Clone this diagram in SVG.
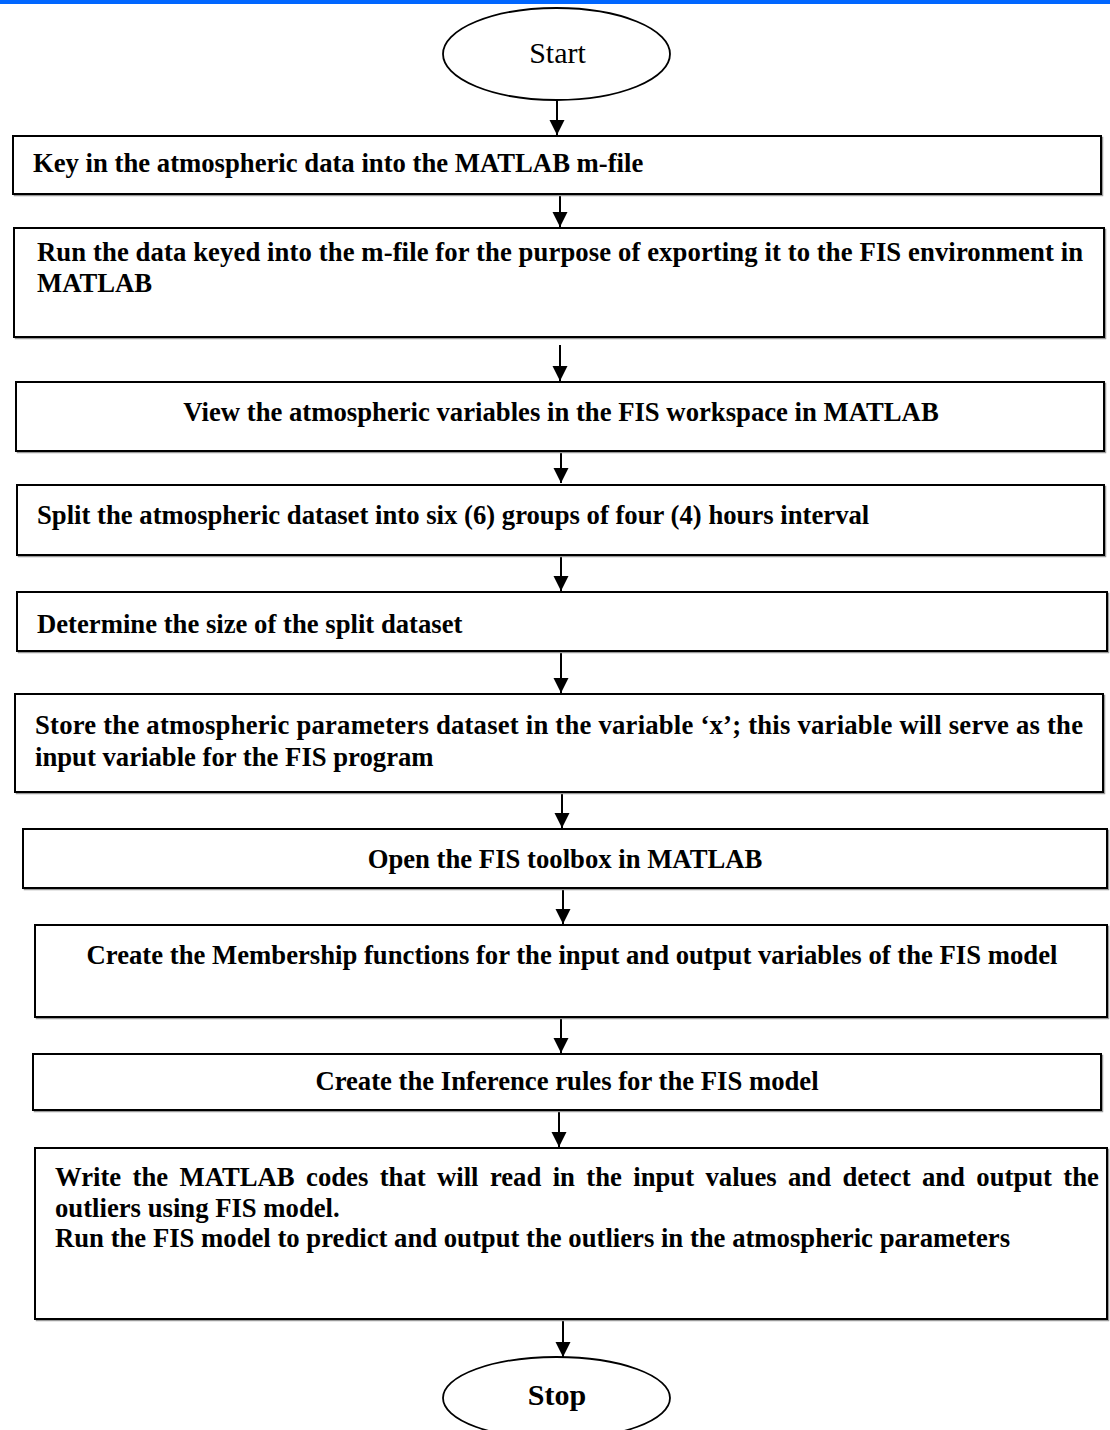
<svg xmlns="http://www.w3.org/2000/svg" width="1110" height="1430" viewBox="0 0 1110 1430">
<style>
.box{fill:#ffffff;stroke:#000000;stroke-width:2}
.sh{fill:none;stroke:#9a9a9a;stroke-width:1.5}
.t{font-family:"Liberation Serif","Times New Roman",serif;font-weight:bold;font-size:26.7px;fill:#000000}
.c{text-anchor:middle}
.term{fill:#ffffff;stroke:#000000;stroke-width:1.8}
.conn{stroke:#000000;stroke-width:2;fill:none;marker-end:url(#ah)}
</style>
<defs>
<marker id="ah" markerUnits="userSpaceOnUse" markerWidth="16" markerHeight="16" viewBox="0 0 16 16" refX="15" refY="8" orient="auto">
<path d="M0,0.5 L15,8 L0,15.5 Z" fill="#000000"/>
</marker>
</defs>
<rect x="0" y="0" width="1110" height="4" fill="#0066ff"/>

<g id="connectors">
<line class="conn" x1="557" y1="100" x2="557" y2="135"/>
<line class="conn" x1="560" y1="194" x2="560" y2="227"/>
<line class="conn" x1="560" y1="345" x2="560" y2="381"/>
<line class="conn" x1="561" y1="452" x2="561" y2="483"/>
<line class="conn" x1="561" y1="556" x2="561" y2="591"/>
<line class="conn" x1="561" y1="652" x2="561" y2="693"/>
<line class="conn" x1="562" y1="793" x2="562" y2="828"/>
<line class="conn" x1="563" y1="890" x2="563" y2="924"/>
<line class="conn" x1="561" y1="1018" x2="561" y2="1053"/>
<line class="conn" x1="559" y1="1111" x2="559" y2="1147"/>
<line class="conn" x1="563" y1="1320" x2="563" y2="1357"/>
</g>

<g id="start">
<ellipse class="term" cx="556.5" cy="54" rx="113.5" ry="46"/>
<text x="557.5" y="63" font-family="Liberation Serif, Times New Roman, serif" font-size="30" text-anchor="middle" fill="#000">Start</text>
</g>

<g id="step1">
<rect class="sh" x="14.5" y="137.5" width="1088" height="58"/>
<rect class="box" x="13" y="136" width="1088" height="58"/>
<text class="t" x="33" y="172">Key in the atmospheric data into the MATLAB m-file</text>
</g>

<g id="step2">
<rect class="sh" x="15.5" y="229.5" width="1090" height="109"/>
<rect class="box" x="14" y="228" width="1090" height="109"/>
<text class="t" x="37" y="261" textLength="1046" lengthAdjust="spacing">Run the data keyed into the m-file for the purpose of exporting it to the FIS environment in</text>
<text class="t" x="37" y="292">MATLAB</text>
</g>

<g id="step3">
<rect class="sh" x="17.5" y="383.5" width="1088" height="69"/>
<rect class="box" x="16" y="382" width="1088" height="69"/>
<text class="t c" x="561" y="421">View the atmospheric variables in the FIS workspace in MATLAB</text>
</g>

<g id="step4">
<rect class="sh" x="18.5" y="486.5" width="1087" height="70"/>
<rect class="box" x="17" y="485" width="1087" height="70"/>
<text class="t" x="37" y="524">Split the atmospheric dataset into six (6) groups of four (4) hours interval</text>
</g>

<g id="step5">
<rect class="sh" x="18.5" y="593.5" width="1090" height="59"/>
<rect class="box" x="17" y="592" width="1090" height="59"/>
<text class="t" x="37" y="633">Determine the size of the split dataset</text>
</g>

<g id="step6">
<rect class="sh" x="16.5" y="695.5" width="1088" height="98"/>
<rect class="box" x="15" y="694" width="1088" height="98"/>
<text class="t" x="35" y="734" textLength="1048" lengthAdjust="spacing">Store the atmospheric parameters dataset in the variable ‘x’; this variable will serve as the</text>
<text class="t" x="35" y="766">input variable for the FIS program</text>
</g>

<g id="step7">
<rect class="sh" x="24.5" y="830.5" width="1084" height="59"/>
<rect class="box" x="23" y="829" width="1084" height="59"/>
<text class="t c" x="565" y="868">Open the FIS toolbox in MATLAB</text>
</g>

<g id="step8">
<rect class="sh" x="36.5" y="926.5" width="1072" height="92"/>
<rect class="box" x="35" y="925" width="1072" height="92"/>
<text class="t c" x="572" y="964">Create the Membership functions for the input and output variables of the FIS model</text>
</g>

<g id="step9">
<rect class="sh" x="34.5" y="1055.5" width="1068" height="56"/>
<rect class="box" x="33" y="1054" width="1068" height="56"/>
<text class="t c" x="567" y="1090">Create the Inference rules for the FIS model</text>
</g>

<g id="step10">
<rect class="sh" x="36.5" y="1149.5" width="1072" height="171"/>
<rect class="box" x="35" y="1148" width="1072" height="171"/>
<text class="t" x="55" y="1186" word-spacing="4.7">Write the MATLAB codes that will read in the input values and detect and output the</text>
<text class="t" x="55" y="1217">outliers using FIS model.</text>
<text class="t" x="55" y="1247">Run the FIS model to predict and output the outliers in the atmospheric parameters</text>
</g>

<g id="stop">
<ellipse class="term" cx="556.5" cy="1398" rx="113.5" ry="41"/>
<text x="557" y="1405" font-family="Liberation Serif, Times New Roman, serif" font-size="30" font-weight="bold" text-anchor="middle" fill="#000">Stop</text>
</g>
</svg>
